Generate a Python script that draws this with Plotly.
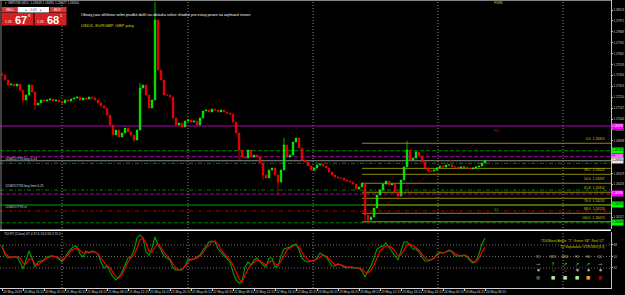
import plotly.graph_objects as go

# ---------------- data ----------------
close = [
    1.27460, 1.27413, 1.27366, 1.27375, 1.27356, 1.27375, 1.27318, 1.27224, 1.27271, 1.27366,
    1.27300, 1.27177, 1.27196, 1.27224, 1.27214, 1.27224, 1.27233, 1.27214, 1.27224, 1.27205,
    1.27196, 1.27224, 1.27214, 1.27233, 1.27243, 1.27252, 1.27224, 1.27243, 1.27233, 1.27252,
    1.27243, 1.27224, 1.27196, 1.27167, 1.27148, 1.27082, 1.26988, 1.26893, 1.26940, 1.26874,
    1.26912, 1.26959, 1.26922, 1.26893, 1.26846, 1.26940, 1.27337, 1.27366, 1.27271, 1.27148,
    1.27224, 1.27980, 1.27507, 1.27413, 1.27271, 1.27271, 1.27252, 1.27054, 1.26988, 1.27007,
    1.26969, 1.27025, 1.27035, 1.27016, 1.27025, 1.26988, 1.27054, 1.27120, 1.27129, 1.27111,
    1.27139, 1.27129, 1.27111, 1.27129, 1.27111, 1.27101, 1.27092, 1.27016, 1.26912, 1.26751,
    1.26685, 1.26676, 1.26751, 1.26685, 1.26704, 1.26685, 1.26629, 1.26515, 1.26487, 1.26562,
    1.26581, 1.26515, 1.26449, 1.26562, 1.26799, 1.26685, 1.26704, 1.26827, 1.26865, 1.26770,
    1.26657, 1.26638, 1.26600, 1.26562, 1.26581, 1.26610, 1.26619, 1.26600, 1.26581, 1.26544,
    1.26515, 1.26496, 1.26487, 1.26487, 1.26468, 1.26458, 1.26449, 1.26430, 1.26383, 1.26402,
    1.26440, 1.26137, 1.26090, 1.26118, 1.26203, 1.26326, 1.26373, 1.26430, 1.26458, 1.26421,
    1.26430, 1.26355, 1.26317, 1.26468, 1.26591, 1.26751, 1.26657, 1.26676, 1.26733, 1.26695,
    1.26638, 1.26581, 1.26553, 1.26553, 1.26562, 1.26581, 1.26600, 1.26591, 1.26610, 1.26610,
    1.26591, 1.26591, 1.26581, 1.26591, 1.26591, 1.26581, 1.26572, 1.26581, 1.26591, 1.26600,
    1.26629, 1.26650,
]
first_open = 1.27470
wick_high = {46: 1.27385, 51: 1.28150, 94: 1.26865, 135: 1.26837}
wick_low = {7: 1.27196, 11: 1.27129, 44: 1.26827, 79: 1.26657, 87: 1.26468,
            92: 1.26326, 121: 1.26062, 122: 1.26062, 132: 1.26279}

tdi_green = [
    68.0, 52.3, 47.7, 49.2, 49.2, 49.2, 41.4, 30.4, 44.5, 58.6,
    47.7, 33.6, 41.4, 43.0, 44.5, 49.2, 50.8, 50.8, 49.2, 46.1,
    41.4, 47.7, 57.0, 61.7, 66.4, 64.9, 53.9, 49.2, 58.6, 55.5,
    58.6, 57.0, 53.9, 41.4, 32.0, 35.1, 27.3, 17.9, 13.2, 17.9,
    25.7, 36.7, 47.7, 49.2, 60.2, 79.0, 83.6, 79.0, 57.0, 52.3,
    63.3, 80.5, 68.0, 60.2, 50.8, 47.7, 44.5, 32.0, 28.9, 28.9,
    28.9, 35.1, 46.1, 44.5, 46.1, 49.2, 52.3, 60.2, 66.4, 72.7,
    74.3, 72.7, 61.7, 57.0, 52.3, 47.7, 41.4, 25.7, 13.2, 8.5,
    10.1, 33.6, 41.4, 36.7, 44.5, 47.7, 41.4, 36.7, 33.6, 47.7,
    47.7, 33.6, 35.1, 50.8, 61.7, 63.3, 64.9, 68.0, 69.6, 60.2,
    47.7, 43.0, 41.4, 43.0, 43.0, 47.7, 55.5, 52.3, 49.2, 43.0,
    35.1, 35.1, 38.3, 36.7, 33.6, 32.0, 33.6, 32.0, 32.0, 32.0,
    27.3, 17.9, 27.3, 35.1, 47.7, 61.7, 64.9, 66.4, 71.1, 64.9,
    58.6, 50.8, 44.5, 58.6, 72.7, 72.7, 68.0, 61.7, 61.7, 57.0,
    49.2, 43.0, 43.0, 44.5, 47.7, 53.9, 57.0, 55.5, 57.0, 60.2,
    57.0, 50.8, 50.8, 50.8, 52.3, 49.2, 43.0, 39.8, 43.0, 53.9,
    69.6, 79.0,
]
tdi_red = [
    64.9, 55.5, 50.8, 49.2, 49.2, 49.2, 47.7, 39.8, 38.3, 46.1,
    46.1, 38.3, 36.7, 41.4, 44.5, 47.7, 49.2, 50.8, 49.2, 47.7,
    44.5, 47.7, 52.3, 58.6, 61.7, 63.3, 58.6, 55.5, 55.5, 57.0,
    57.0, 57.0, 53.9, 47.7, 39.8, 35.1, 32.0, 25.7, 17.9, 16.4,
    21.0, 32.0, 41.4, 47.7, 52.3, 63.3, 75.8, 79.0, 71.1, 58.6,
    57.0, 64.9, 69.6, 64.9, 55.5, 50.8, 46.1, 38.3, 32.0, 28.9,
    30.4, 35.1, 41.4, 46.1, 46.1, 47.7, 50.8, 55.5, 63.3, 68.0,
    72.7, 74.3, 69.6, 60.2, 55.5, 50.8, 44.5, 36.7, 24.2, 14.8,
    10.1, 19.5, 30.4, 36.7, 41.4, 44.5, 43.0, 39.8, 36.7, 41.4,
    43.0, 38.3, 36.7, 43.0, 52.3, 60.2, 63.3, 66.4, 68.0, 64.9,
    57.0, 49.2, 44.5, 43.0, 43.0, 46.1, 49.2, 52.3, 50.8, 46.1,
    39.8, 36.7, 38.3, 36.7, 35.1, 33.6, 33.6, 33.6, 32.0, 32.0,
    30.4, 25.7, 24.2, 28.9, 36.7, 47.7, 58.6, 63.3, 66.4, 66.4,
    63.3, 58.6, 50.8, 52.3, 60.2, 68.0, 69.6, 66.4, 63.3, 60.2,
    53.9, 47.7, 44.5, 44.5, 47.7, 52.3, 55.5, 55.5, 57.0, 58.6,
    58.6, 53.9, 52.3, 50.8, 52.3, 50.8, 46.1, 41.4, 41.4, 47.7,
    57.0, 64.9,
]
tdi_levels = [68, 50, 32]

time_labels = [
    "20 May 2019", "20 May 16:15", "20 May 20:15", "21 May 00:15", "21 May 04:15",
    "21 May 08:15", "21 May 12:15", "21 May 16:15", "21 May 20:15", "22 May 00:15",
    "22 May 04:15", "22 May 08:15", "22 May 12:15", "22 May 16:15", "22 May 20:15",
    "23 May 00:15", "23 May 04:15", "23 May 08:15", "23 May 12:15", "23 May 16:15",
    "23 May 20:15", "24 May 00:15", "24 May 04:15", "24 May 08:15",
]
bars_per_label = 7
day_sep_bars = [20, 62, 103.7, 145.3, 187]

price_tick_labels = ["1.28074", "1.27971", "1.27868", "1.27765", "1.27662", "1.27559",
                     "1.27456", "1.27353", "1.27250", "1.27147", "1.27044", "1.26941",
                     "1.26838", "1.26529", "1.26426", "1.26117"]

# horizontal levels: price, colour, dash
level_prices = [1.26978, 1.26745, 1.26688, 1.26626, 1.26373, 1.26336, 1.26232, 1.26175, 1.26064]
level_colors = ["#b000b0", "#008000", "#b000b0", "#008000", "#008000", "#b000b0", "#00a000", "#b00000", "#008000"]
level_dash = ["solid", "4px,2px", "4px,2px", "4px,2px,1px,2px", "4px,2px,1px,2px", "4px,2px", "solid", "4px,2px,1px,2px", "4px,2px"]

order_prices = [1.26626, 1.26373, 1.26175]
order_texts = ["#208257793 buy 0.13", "#208257794 buy limit 0.25", "#208257793 sl"]

axis_box_prices = [1.26978, 1.26745, 1.26688, 1.26336, 1.26232, 1.26064]
axis_box_bg = ["#ff00ff", "#00ff00", "#ff00ff", "#ff00ff", "#00ff00", "#00ff00"]
axis_box_fg = ["white", "black", "white", "white", "black", "black"]

fib_prices = [1.26815, 1.26578, 1.26522, 1.26437, 1.26352, 1.26295, 1.26232, 1.26153, 1.26074]
fib_names = ["0.0", "", "38.2", "50.0", "61.8", "", "76.4", "88.6", "100.0"]
fib_start_bar = 120

trend_bars = [123.7, 157]
trend_prices = [1.26156, 1.26799]

tf_labels = ["M5", "M15", "M30", "H1", "H4", "D1"]
tf_arrows = ["→", "↑", "↗", "↗", "↗", "→"]
tf_arrow_colors = ["#9a9a9a", "#00ff00", "#00ff00", "#00ff00", "#00ff00", "#9a9a9a"]
tf_circles = ["●", "○", "○", "●", "●", "●"]
tf_square_colors = ["#3c5a5a", "#a8f0a8", "#a8f0a8", "#a8f0a8", "#ffa000", "#a00000"]

# ---------------- candles ----------------
n = len(close)
bars = list(range(n))
opens = [first_open] + close[:-1]
highs = [max(o, c) for o, c in zip(opens, close)]
lows = [min(o, c) for o, c in zip(opens, close)]
for k, v in wick_high.items():
    highs[k] = v
for k, v in wick_low.items():
    lows[k] = v

W, H = 611, 288
def px(x):
    return x / W
def py(y):
    return (H - y) / H

FONT = "Liberation Sans, Arial, sans-serif"
AXF = 2.9

fig = go.Figure()
fig.add_trace(go.Candlestick(
    x=bars, open=opens, high=highs, low=lows, close=close,
    increasing=dict(line=dict(color="#00ff00", width=0.7), fillcolor="#00ff00"),
    decreasing=dict(line=dict(color="#ff0000", width=0.7), fillcolor="#ff0000"),
    whiskerwidth=0, xaxis="x", yaxis="y", hoverinfo="skip"))
fig.add_trace(go.Scatter(x=bars, y=tdi_green, mode="lines",
                         line=dict(color="#00a000", width=1.1), xaxis="x2", yaxis="y2"))
fig.add_trace(go.Scatter(x=bars, y=tdi_red, mode="lines",
                         line=dict(color="#ff0000", width=1.1), xaxis="x2", yaxis="y2"))

shapes = []
ann = []

# day separators
for b in day_sep_bars:
    shapes.append(dict(type="line", xref="x", yref="paper", x0=b, x1=b, y0=0, y1=1,
                       line=dict(color="#8a8a8a", width=1, dash="1px,2px"), layer="below"))
# frame lines
shapes.append(dict(type="line", xref="paper", yref="paper", x0=0, x1=1, y0=py(0.5), y1=py(0.5),
                   line=dict(color="#808080", width=1)))
shapes.append(dict(type="line", xref="paper", yref="paper", x0=px(1), x1=px(1), y0=py(230), y1=1,
                   line=dict(color="#808080", width=1)))
shapes.append(dict(type="line", xref="paper", yref="paper", x0=0, x1=1, y0=py(230.3), y1=py(230.3),
                   line=dict(color="#ffffff", width=1.6)))

# horizontal levels
for p, c, d in zip(level_prices, level_colors, level_dash):
    shapes.append(dict(type="line", xref="paper", yref="y", x0=0, x1=1, y0=p, y1=p,
                       line=dict(color=c, width=1, dash=d), layer="below"))
# bid line
shapes.append(dict(type="line", xref="paper", yref="y", x0=0, x1=1, y0=close[-1], y1=close[-1],
                   line=dict(color="#8c8c8c", width=1), layer="below"))
# fibonacci levels
for p in fib_prices:
    shapes.append(dict(type="line", xref="x", yref="y", x0=fib_start_bar, x1=203, y0=p, y1=p,
                       line=dict(color="#8c8c00", width=1), layer="below"))
for p, nm in zip(fib_prices, fib_names):
    if nm:
        ann.append(dict(xref="paper", yref="y", x=px(607), y=p, text=f"{nm}  {p:.5f}",
                        xanchor="right", yanchor="bottom", showarrow=False,
                        font=dict(size=3.4, color="#c8c800", family=FONT)))
# trend line
shapes.append(dict(type="line", xref="x", yref="y", x0=trend_bars[0], x1=trend_bars[1],
                   y0=trend_prices[0], y1=trend_prices[1],
                   line=dict(color="#b00000", width=1, dash="1px,2px")))
# TDI levels
for lv in tdi_levels:
    shapes.append(dict(type="line", xref="paper", yref="y2", x0=0, x1=1, y0=lv, y1=lv,
                       line=dict(color="#707070", width=1, dash="1px,2px"), layer="below"))

# order labels
for p, t in zip(order_prices, order_texts):
    ann.append(dict(xref="paper", yref="y", x=px(3), y=p, text=t, xanchor="left",
                    yanchor="bottom", showarrow=False, font=dict(size=3.3, color="#d0d0d0", family=FONT)))
# axis boxes
for p, bg, fg in zip(axis_box_prices, axis_box_bg, axis_box_fg):
    ann.append(dict(xref="paper", yref="y", x=1.0, y=p, text=f"{p:.5f}", xanchor="left",
                    yanchor="middle", showarrow=False, bgcolor=bg, borderpad=0.3,
                    font=dict(size=AXF, color=fg, family=FONT)))
ann.append(dict(xref="paper", yref="y", x=1.0, y=close[-1], text=f"{close[-1]:.5f}", xanchor="left",
                yanchor="middle", showarrow=False, bgcolor="#e6e6e6", borderpad=0.3,
                font=dict(size=AXF, color="black", family=FONT)))
# pivot texts
ann.append(dict(xref="x", yref="y", x=165, y=level_prices[0], text="R1", xanchor="center",
                yanchor="top", showarrow=False, font=dict(size=4, color="#b000b0", family=FONT)))
ann.append(dict(xref="x", yref="y", x=165, y=level_prices[6], text="S1", xanchor="center",
                yanchor="top", showarrow=False, font=dict(size=4, color="#00a000", family=FONT)))

# top texts
def txt(x, y, t, size, color, xa="left", ya="middle", family=FONT):
    ann.append(dict(xref="paper", yref="paper", x=px(x), y=py(y), text=t, xanchor=xa, yanchor=ya,
                    showarrow=False, font=dict(size=size, color=color, family=family)))

txt(3, 3, "▾ GBPUSD,M15  1.26649 1.26681 1.26627 1.26650", 3.2, "#d0d0d0")
txt(79, 15.5, "Obraty jsou většinou velmi prudké další na obrázku velice vhodné pro vstup pouze na zajímavé úrovni", 3.75, "white")
txt(79, 25, "USDX, EURGBP, GBP páry", 4.3, "#d4d400")
txt(498, 2.5, "FWM", 3.5, "#c8c800", xa="center")

# trade panel
def rect(x0, y0, x1, y1, fill):
    shapes.append(dict(type="rect", xref="paper", yref="paper", x0=px(x0), x1=px(x1),
                       y0=py(y1), y1=py(y0), fillcolor=fill, line=dict(width=0)))

rect(2, 7, 17, 12.5, "#e43030")
rect(17.5, 7, 49, 12.5, "#ffffff")
rect(49.5, 7, 66.5, 12.5, "#e43030")
rect(2, 13, 33.5, 25.5, "#d42020")
rect(34.5, 13, 66.5, 25.5, "#d42020")
txt(9.5, 9.8, "SELL", 3.4, "white", xa="center")
txt(58, 9.8, "BUY", 3.4, "white", xa="center")
txt(33, 9.8, "◂    0.01    ▸", 3.2, "#303030", xa="center")
txt(8, 21.5, "1.26", 3.4, "white", xa="center")
txt(20.5, 19.5, "<b>67</b>", 11, "white", xa="center")
txt(29.5, 15.8, "8", 4.2, "white", xa="center")
txt(40, 21.5, "1.26", 3.4, "white", xa="center")
txt(52.5, 19.5, "<b>68</b>", 11, "white", xa="center")
txt(61.5, 15.8, "1", 4.2, "white", xa="center")

# indicator texts
txt(2, 234, "TDI RT (Close) 67.4 37.6 53.3 63.3 75.5", 3.2, "#d0d0d0")
txt(607, 241, "TDI(Wave) Angle: \"5\"  Green: 68\"  Red: 52\"", 3.3, "#d4d400", xa="right")
txt(607, 246.5, "TD Separation: STRONG [3.5]", 3.3, "#d4d400", xa="right")
tf_x = [538, 553, 565, 577, 588, 600]
for i, x in enumerate(tf_x):
    txt(x, 257, tf_labels[i], 3.2, "#9a9a9a" if i == 0 else "#c8c864", xa="center")
    txt(x, 263.5, tf_arrows[i], 5, tf_arrow_colors[i], xa="center", family="DejaVu Sans")
    txt(x, 269.5, tf_circles[i], 3.5, "#a0a0a0", xa="center", family="DejaVu Sans")
    txt(x, 277, "■", 4.5, tf_square_colors[i], xa="center", family="DejaVu Sans")

tick_vals_x = [bars_per_label * k for k in range(len(time_labels))]

fig.update_layout(
    width=625, height=295,
    margin=dict(l=0, r=14, t=0, b=7, autoexpand=False),
    paper_bgcolor="black", plot_bgcolor="black",
    showlegend=False,
    font=dict(family=FONT, color="white", size=4),
    xaxis=dict(domain=[0, 1], range=[-2/3, 203], anchor="y", showticklabels=False,
               showgrid=False, zeroline=False, rangeslider=dict(visible=False), fixedrange=True,
               automargin=False),
    xaxis2=dict(domain=[0, 1], range=[-2/3, 203], anchor="y2", matches="x",
                tickvals=tick_vals_x, ticktext=time_labels, ticks="outside", ticklen=2,
                tickangle=0, automargin=False,
                tickcolor="#d0d0d0", tickfont=dict(size=3.3, color="#d0d0d0", family=FONT),
                ticklabelposition="outside right", showgrid=False, zeroline=False,
                showline=True, linecolor="#d0d0d0", linewidth=1),
    yaxis=dict(domain=[(H - 229) / H, 1], range=[1.26005, 1.281689], side="right", anchor="x",
               tickvals=[float(s) for s in price_tick_labels], ticktext=price_tick_labels,
               ticks="outside", ticklen=1, tickcolor="#c0c0c0", automargin=False,
               tickfont=dict(size=AXF, color="#d0d0d0", family=FONT),
               showgrid=False, zeroline=False, showline=True, linecolor="#c0c0c0", linewidth=1),
    yaxis2=dict(domain=[0, (H - 231.5) / H], range=[0.7, 89.1], side="right", anchor="x2",
                tickvals=tdi_levels, ticktext=[str(v) for v in tdi_levels],
                ticks="outside", ticklen=1, tickcolor="#c0c0c0", automargin=False,
                tickfont=dict(size=AXF, color="#d0d0d0", family=FONT),
                showgrid=False, zeroline=False, showline=True, linecolor="#c0c0c0", linewidth=1),
    shapes=shapes,
    annotations=ann,
)

fig.write_html("out.html")
